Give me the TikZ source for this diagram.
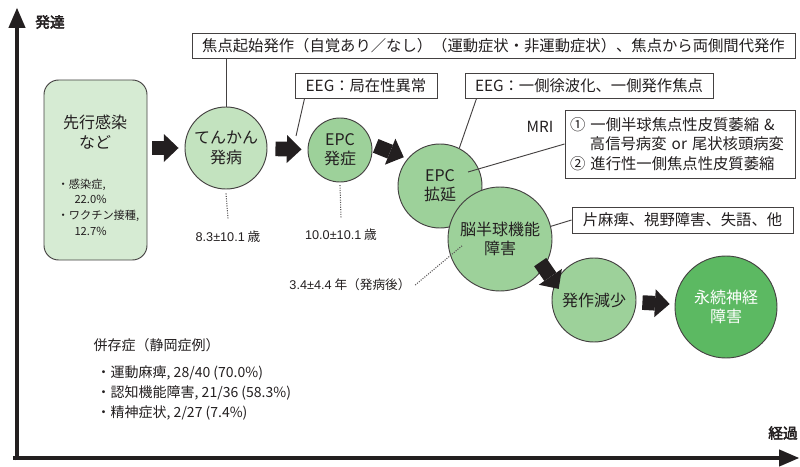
\documentclass[tikz,border=0pt]{standalone}
\usepackage{fontspec}
\setmainfont{Noto Sans CJK JP}
\newfontfamily\jpbold{Noto Sans CJK JP}[FakeBold=3]
\newfontfamily\latinfont{Liberation Sans}
\usepackage{tikz}
\usetikzlibrary{arrows.meta}

\definecolor{ink}{RGB}{35,31,32}
\definecolor{boxgreen}{RGB}{214,235,211}
\definecolor{lightgreen}{RGB}{195,227,191}
\definecolor{midgreen}{RGB}{157,209,154}
\definecolor{darkgreen}{RGB}{92,185,98}

\begin{document}
\begin{tikzpicture}[x=0.75pt, y=-0.75pt,
    txt/.style={text=ink, font=\fontsize{11.5}{14.5}\selectfont},
    small/.style={text=ink, font=\fontsize{9.5}{12}\selectfont},
    phase/.style={circle, draw=ink!85, line width=0.7pt, inner sep=0pt, align=center, text=ink,
                  font=\fontsize{12}{14.5}\selectfont},
    callout/.style={draw=ink!85, fill=white, line width=0.7pt, inner sep=0pt, txt},
    lead/.style={draw=ink!85, line width=0.7pt},
    agedot/.style={draw=ink!75, densely dotted, line width=0.8pt},
    blockarrow/.style={draw=ink, line width=11pt, -{Triangle[length=11pt, width=21pt, line width=0pt]}},
    axis/.style={draw=ink, line width=3.4pt, -{Triangle[length=15pt, width=13pt, line width=0pt]}},
    axislabel/.style={text=ink, font=\fontsize{11}{13}\jpbold}]

    \useasboundingbox (0,0) rectangle (800,467);

    % Axes
    \coordinate (origin) at (17,458);
    \coordinate (ytip) at (17,8);
    \coordinate (xtip) at (799,458);
    \draw[axis] ([yshift=-1.7pt]origin) -- (ytip);
    \draw[axis] ([xshift=-3pt]origin) -- (xtip);
    \node[axislabel] (devlbl) at (50,22) {発達};
    \node[axislabel] (courselbl) at (783,433) {経過};

    % Preceding infection box
    \node[draw=ink!85, fill=boxgreen, line width=0.7pt, rounded corners=11pt,
          minimum width=77.25pt, minimum height=135pt] (pre) at (95.5,170) {};
    \node[text=ink, font=\fontsize{12}{15}\selectfont, align=center] (pretitle) at (95,132) {先行感染\\など};
    \node[text=ink, font=\fontsize{8.4}{11.7}\selectfont, align=left, anchor=west] (prelist) at (53,207)
        {・感染症,\\\hspace*{1.5em}22.0\%\\・ワクチン接種,\\\hspace*{1.5em}12.7\%};

    % Course of the disease
    \node[phase, fill=lightgreen, minimum size=61.5pt] (onset) at (226,148) {てんかん\\発病};
    \node[phase, fill=midgreen, minimum size=48pt] (epc) at (340,150) {EPC\\発症};
    \node[phase, fill=midgreen, minimum size=63pt] (epcext) at (440,186) {EPC\\拡延};
    \node[phase, fill=midgreen, minimum size=78pt] (hemi) at (500,239) {脳半球機能\\障害};
    \node[phase, fill=midgreen, minimum size=63pt] (seizdec) at (594,300) {発作減少};
    \node[phase, fill=darkgreen, text=white, minimum size=76.5pt] (perm) at (726,307) {永続神経\\障害};

    % Block arrows
    \draw[blockarrow, shorten <=3.75pt, shorten >=4.5pt] (pre.east |- onset) -- (onset);
    \draw[blockarrow, shorten <=6pt, shorten >=4.5pt] (onset) -- (epc);
    \draw[blockarrow, shorten <=3pt, shorten >=3pt] (epc.10) -- (epcext.140);
    \draw[blockarrow, shorten <=-5pt, shorten >=-5pt] (hemi.-33) -- (seizdec.157);
    \draw[blockarrow, shorten <=4.5pt, shorten >=3.75pt] (seizdec) -- (perm);

    % Findings
    \node[callout, minimum width=452.25pt, minimum height=18.75pt] (seizbox) at (493.5,45.5)
        {焦点起始発作（自覚あり／なし）（運動症状・非運動症状）、焦点から両側間代発作};
    \node[callout, minimum width=106.5pt, minimum height=18.75pt] (eegloc) at (366,85.5) {EEG：局在性異常};
    \node[callout, minimum width=186pt, minimum height=18.75pt] (eegside) at (589,85.5) {EEG：一側徐波化、一側発作焦点};
    \node[txt] (mrilbl) at (540,127) {MRI};
    \node[callout, align=left, text width=165pt, inner xsep=3.75pt, minimum height=51pt] (mribox) at (680,144)
        {① 一側半球焦点性皮質萎縮 \&\\\hspace*{1.3em}高信号病変 or 尾状核頭病変\\② 進行性一側焦点性皮質萎縮};
    \node[callout, minimum width=165.75pt, minimum height=19.5pt] (deficit) at (682.5,220) {片麻痺、視野障害、失語、他};

    \coordinate (eegpt) at (296,136);
    \coordinate (mript) at (468,172);
    \draw[lead] (seizbox.south -| onset) -- (onset);
    \draw[lead] ([xshift=7.5pt]eegloc.south west) -- (eegpt);
    \draw[lead] ([xshift=9pt]eegside.south west) -- (epcext.63);
    \draw[lead] (mribox.west) -- (mript);
    \draw[lead] (deficit.west) -- (hemi.14);

    % Age at each stage
    \node[small] (onsetage) at (228,237) {{\latinfont 8.3±10.1} 歳};
    \node[small] (epcage) at (341,235) {{\latinfont 10.0±10.1} 歳};
    \node[small] (hemiage) at (350,285) {{\latinfont 3.4±4.4} 年（発病後）};
    \coordinate (hemipt) at (463,245);
    \draw[agedot] ([yshift=-3pt]onset.south) -- ([yshift=6pt]onsetage.north);
    \draw[agedot] ([yshift=-2pt]epc.south) -- ([yshift=5pt]epcage.north);
    \draw[agedot] (hemiage.east) -- (hemipt);

    % Comorbidities
    \node[text=ink, font=\fontsize{10.5}{15}\selectfont, anchor=west] (comtitle) at (89,345) {併存症（静岡症例）};
    \node[text=ink, font=\fontsize{10.5}{15}\selectfont, align=left, anchor=west] (comlist) at (92,393)
        {・運動麻痺, 28/40 (70.0\%)\\・認知機能障害, 21/36 (58.3\%)\\・精神症状, 2/27 (7.4\%)};
\end{tikzpicture}
\end{document}
